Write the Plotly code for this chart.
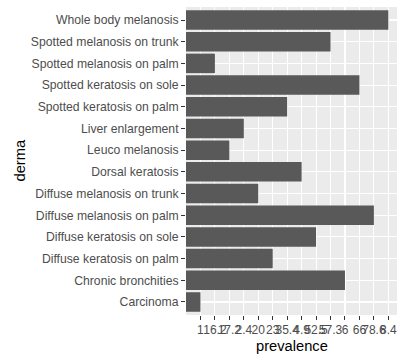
import plotly.graph_objects as go

derma = [
    "Carcinoma", "Chronic bronchities", "Diffuse keratosis on palm",
    "Diffuse keratosis on sole", "Diffuse melanosis on palm",
    "Diffuse melanosis on trunk", "Dorsal keratosis", "Leuco melanosis",
    "Liver enlargement", "Spotted keratosis on palm", "Spotted keratosis on sole",
    "Spotted melanosis on palm", "Spotted melanosis on trunk", "Whole body melanosis",
]
prevalence = [
    "1", "6", "23", "52.5", "78.6", "20", "4.9", "17.2",
    "2.4", "35.4", "66", "16.2", "57.3", "8.4",
]

# prevalence is a discrete (character) variable: levels sorted as strings
levels = sorted(set(prevalence))
level_pos = [levels.index(v) + 1 for v in prevalence]

FONT = "Liberation Sans, Arial, sans-serif"
W, H = 405, 361
ML, MR, MT, MB = 186, 8, 7, 46
PW, PH = W - ML - MR, H - MT - MB

fig = go.Figure(
    go.Bar(
        x=level_pos,
        y=derma,
        orientation="h",
        marker=dict(color="#595959", line=dict(width=0)),
        width=0.9,
        hoverinfo="skip",
    )
)

fig.update_layout(
    width=W,
    height=H,
    autosize=False,
    margin=dict(l=ML, r=MR, t=MT, b=MB, pad=0),
    paper_bgcolor="white",
    plot_bgcolor="#EBEBEB",
    showlegend=False,
    font=dict(family=FONT),
    annotations=[
        dict(text="prevalence", xref="paper", yref="paper",
             x=0.5, y=(0 - 30.5) / PH, xanchor="center", yanchor="middle",
             showarrow=False, font=dict(size=14.7, color="black", family=FONT)),
        dict(text="derma", xref="paper", yref="paper",
             x=(19.5 - ML) / PW, y=0.5, xanchor="center", yanchor="middle",
             textangle=-90, showarrow=False,
             font=dict(size=14.7, color="black", family=FONT)),
    ],
)

fig.update_xaxes(
    type="linear",
    range=[0, 14.6],
    tickmode="array",
    tickvals=list(range(1, len(levels) + 1)),
    ticktext=levels,
    tickangle=0,
    ticks="outside",
    ticklen=4,
    tickwidth=1,
    tickcolor="#333333",
    tickfont=dict(size=12, color="#4D4D4D", family=FONT),
    showgrid=True,
    gridcolor="white",
    gridwidth=1.1,
    zeroline=False,
    showline=False,
    automargin=False,
)

fig.update_yaxes(
    type="category",
    categoryorder="array",
    categoryarray=sorted(derma),
    range=[-0.6, len(derma) - 0.4],
    ticks="outside",
    ticklen=4,
    tickwidth=1,
    tickcolor="#333333",
    tickfont=dict(size=12.2, color="#4D4D4D", family=FONT),
    showgrid=True,
    gridcolor="white",
    gridwidth=1.1,
    zeroline=False,
    showline=False,
    automargin=False,
)

fig.write_html(
    "out.html",
    config={"displayModeBar": False, "staticPlot": True},
    post_script="document.body.style.margin='0';",
)
